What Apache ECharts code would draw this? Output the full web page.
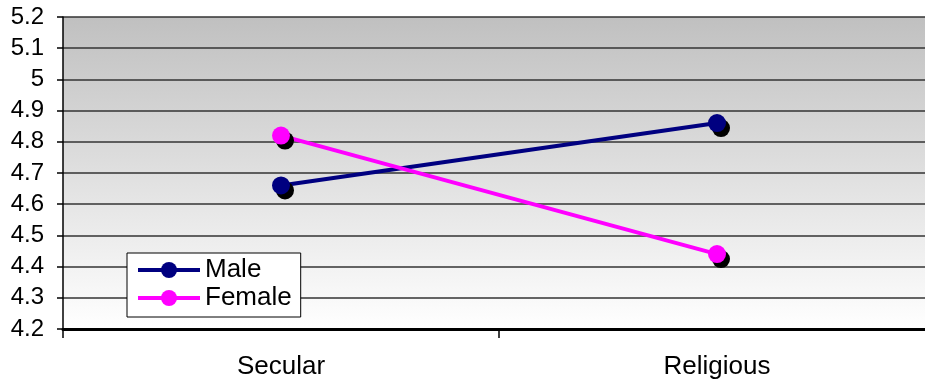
<!DOCTYPE html>
<html><head><meta charset="utf-8">
<script src="https://cdn.jsdelivr.net/npm/echarts@6/dist/echarts.min.js"></script>
<style>html,body{margin:0;padding:0;background:#fff}#c{width:925px;height:386px}</style>
</head><body><div id="c"></div>
<script>
var categories = ['Secular', 'Religious'];
var maleValues = [4.66, 4.86];
var femaleValues = [4.82, 4.44];
var yMin = 4.2, yMax = 5.2, yStep = 0.1;

var chart = echarts.init(document.getElementById('c'));
var font = '"Liberation Sans", Arial, sans-serif';
function mk(name, data, color) {
  return {
    name: name, type: 'line', data: data,
    symbol: 'circle', symbolSize: 18,
    lineStyle: { color: color, width: 4 },
    itemStyle: { color: color, shadowColor: '#000', shadowOffsetX: 4, shadowOffsetY: 5, shadowBlur: 0 },
    emphasis: { disabled: true }
  };
}
chart.setOption({
  animation: false,
  grid: { left: 63, right: -10, top: 17, bottom: 57, show: true, borderWidth: 0, containLabel: false,
    outerBoundsMode: 'none',
    backgroundColor: { type: 'linear', x: 0, y: 0, x2: 0, y2: 1,
      colorStops: [{ offset: 0, color: '#c0c0c0' }, { offset: 1, color: '#ffffff' }] } },
  legend: {
    left: 127, top: 253, orient: 'vertical', padding: [3, 9, 5, 9],
    backgroundColor: '#fff', borderColor: '#000', borderWidth: 1,
    itemWidth: 62, itemHeight: 20, itemGap: 0,
    lineStyle: { width: 4 },
    textStyle: { fontFamily: font, fontSize: 26, color: '#000', lineHeight: 28 },
    data: ['Male', 'Female']
  },
  xAxis: {
    type: 'category', data: categories, boundaryGap: true,
    axisLine: { lineStyle: { color: '#000', width: 3 } },
    axisTick: { show: true, length: 9, lineStyle: { color: '#000', width: 1.5 } },
    axisLabel: { fontFamily: font, fontSize: 26, color: '#000', margin: 25 }
  },
  yAxis: {
    type: 'value', min: yMin, max: yMax, interval: yStep,
    axisLine: { show: true, lineStyle: { color: '#000', width: 1.5 } },
    axisTick: { show: true, length: 6, lineStyle: { color: '#000', width: 1.5 } },
    axisLabel: { fontFamily: font, fontSize: 24, color: '#000', margin: 19,
      formatter: function (v) { return String(Math.round(v * 10) / 10); } },
    splitLine: { show: true, lineStyle: { color: '#333', width: 1.5 } }
  },
  series: [mk('Male', maleValues, '#000080'), mk('Female', femaleValues, '#ff00ff')]
});
</script></body></html>
